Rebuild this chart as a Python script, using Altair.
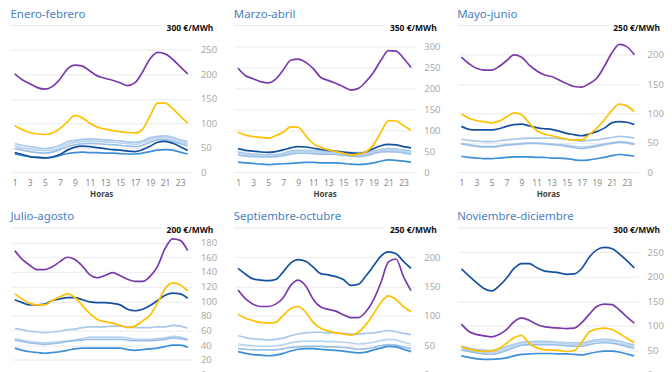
import altair as alt
import pandas as pd

hours = list(range(1, 25))
series = ["2017", "2018", "2019", "2020", "2021", "2023", "2022"]
colors = ["#a9c8ec", "#b9d4f1", "#9bbfe6", "#3d8fd8", "#15509f", "#ffc000", "#7a3aab"]

panels = ["Enero-febrero", "Marzo-abril", "Mayo-junio",
          "Julio-agosto", "Septiembre-octubre", "Noviembre-diciembre"]
ymax = [300, 350, 250, 200, 250, 300]
yticks = [
    [0, 50, 100, 150, 200, 250],
    [0, 50, 100, 150, 200, 250, 300],
    [0, 50, 100, 150, 200],
    [0, 20, 40, 60, 80, 100, 120, 140, 160, 180],
    [0, 50, 100, 150, 200],
    [0, 50, 100, 150, 200, 250],
]

# Enero-febrero
ef_2017 = [58, 55, 52, 50, 48, 50, 55, 62, 65, 67, 68, 67, 66, 65, 64, 62, 61, 64, 70, 73, 74, 71, 66, 62]
ef_2018 = [53, 50, 47, 45, 44, 45, 50, 57, 61, 63, 64, 63, 62, 61, 60, 58, 57, 60, 66, 70, 70, 67, 62, 58]
ef_2019 = [48, 45, 42, 40, 39, 41, 46, 52, 56, 58, 59, 58, 57, 56, 55, 53, 52, 55, 61, 66, 66, 63, 58, 54]
ef_2020 = [37, 34, 31, 30, 29, 30, 34, 38, 40, 41, 40, 40, 39, 39, 38, 37, 37, 39, 42, 45, 46, 45, 41, 37]
ef_2021 = [40, 36, 32, 30, 29, 31, 36, 45, 51, 53, 52, 50, 48, 46, 45, 43, 42, 46, 53, 61, 63, 59, 52, 44]
ef_2023 = [95, 87, 81, 78, 77, 80, 89, 103, 116, 111, 100, 92, 88, 85, 83, 81, 80, 88, 115, 141, 141, 130, 115, 100]
ef_2022 = [201, 189, 181, 173, 170, 175, 190, 211, 219, 217, 207, 197, 192, 188, 183, 177, 183, 205, 232, 245, 242, 231, 216, 201]

# Marzo-abril
ma_2017 = [48, 45, 43, 42, 41, 42, 45, 50, 52, 52, 51, 50, 49, 48, 46, 43, 41, 44, 50, 54, 56, 55, 53, 51]
ma_2018 = [45, 42, 40, 39, 38, 39, 42, 47, 49, 49, 48, 47, 46, 45, 43, 40, 39, 41, 47, 51, 53, 52, 50, 47]
ma_2019 = [41, 38, 37, 36, 36, 37, 39, 43, 45, 45, 44, 43, 43, 42, 40, 38, 37, 39, 44, 48, 49, 48, 46, 43]
ma_2020 = [24, 22, 21, 19, 18, 19, 20, 21, 22, 23, 23, 22, 22, 22, 21, 19, 18, 19, 22, 26, 29, 28, 26, 24]
ma_2021 = [56, 52, 50, 48, 47, 49, 53, 58, 61, 60, 57, 54, 52, 50, 48, 46, 45, 48, 56, 63, 66, 65, 61, 58]
ma_2023 = [95, 88, 85, 83, 81, 87, 95, 108, 107, 87, 68, 59, 53, 49, 45, 41, 43, 48, 65, 95, 123, 122, 111, 100]
ma_2022 = [248, 230, 223, 216, 213, 222, 244, 267, 270, 262, 247, 226, 219, 212, 204, 196, 200, 216, 238, 267, 290, 289, 272, 250]

# Mayo-junio
mj_2017 = [56, 54, 53, 52, 52, 53, 55, 56, 57, 58, 58, 58, 58, 57, 56, 54, 53, 54, 55, 57, 59, 61, 60, 58]
mj_2018 = [49, 47, 45, 44, 44, 45, 47, 48, 49, 50, 50, 49, 48, 47, 46, 44, 43, 44, 46, 48, 50, 52, 51, 49]
mj_2019 = [48, 46, 44, 43, 43, 44, 46, 47, 48, 49, 49, 48, 47, 46, 44, 42, 40, 42, 44, 47, 49, 51, 50, 47]
mj_2020 = [27, 25, 24, 23, 23, 24, 25, 26, 26, 26, 25, 25, 24, 24, 23, 21, 20, 21, 23, 25, 28, 30, 29, 27]
mj_2021 = [78, 73, 72, 72, 72, 74, 78, 81, 82, 79, 76, 74, 73, 70, 66, 64, 62, 65, 69, 75, 84, 86, 85, 81]
mj_2023 = [99, 92, 88, 86, 84, 87, 94, 101, 98, 84, 71, 65, 62, 59, 56, 55, 55, 64, 75, 89, 105, 116, 113, 103]
mj_2022 = [196, 185, 177, 174, 174, 180, 190, 200, 196, 183, 173, 166, 163, 157, 151, 146, 145, 151, 160, 180, 203, 218, 214, 200]

# Julio-agosto
ja_2017 = [63, 61, 59, 58, 57, 58, 59, 61, 62, 64, 65, 65, 65, 66, 66, 65, 64, 64, 64, 65, 65, 67, 66, 63]
ja_2018 = [49, 47, 45, 44, 43, 44, 45, 46, 47, 49, 51, 51, 51, 51, 51, 50, 48, 48, 48, 49, 50, 52, 51, 48]
ja_2019 = [47, 45, 43, 42, 41, 42, 43, 45, 46, 47, 48, 48, 48, 48, 48, 47, 46, 46, 46, 47, 48, 50, 49, 47]
ja_2020 = [36, 33, 31, 30, 29, 30, 31, 33, 35, 36, 36, 36, 36, 36, 36, 34, 33, 34, 35, 36, 38, 40, 40, 37]
ja_2021 = [102, 98, 95, 95, 96, 101, 103, 105, 105, 102, 99, 98, 98, 97, 95, 89, 87, 89, 94, 101, 108, 111, 110, 104]
ja_2023 = [110, 103, 97, 95, 95, 101, 106, 110, 105, 94, 83, 75, 72, 70, 67, 64, 66, 73, 81, 98, 117, 125, 122, 114]
ja_2022 = [169, 157, 149, 143, 143, 147, 154, 160, 157, 148, 136, 132, 135, 139, 135, 130, 127, 127, 134, 148, 172, 185, 183, 169]

# Septiembre-octubre
so_2017 = [66, 63, 61, 60, 59, 60, 62, 66, 69, 71, 72, 72, 71, 71, 70, 69, 69, 70, 71, 73, 75, 73, 70, 68]
so_2018 = [52, 50, 49, 48, 48, 49, 51, 54, 56, 57, 57, 57, 56, 56, 55, 54, 52, 53, 55, 58, 60, 59, 55, 52]
so_2019 = [44, 43, 42, 42, 42, 42, 44, 46, 47, 48, 48, 48, 47, 47, 46, 45, 43, 44, 46, 49, 51, 50, 47, 44]
so_2020 = [39, 36, 34, 33, 32, 33, 36, 40, 43, 44, 44, 43, 42, 41, 40, 38, 37, 38, 42, 45, 48, 47, 43, 39]
so_2021 = [181, 171, 163, 161, 160, 162, 175, 190, 196, 193, 183, 172, 170, 167, 162, 152, 154, 168, 185, 202, 209, 206, 193, 181]
so_2023 = [103, 96, 92, 89, 88, 89, 101, 112, 116, 106, 89, 79, 74, 71, 69, 67, 72, 85, 103, 123, 134, 128, 116, 107]
so_2022 = [144, 129, 120, 116, 116, 120, 131, 152, 161, 151, 128, 115, 111, 108, 102, 97, 97, 107, 127, 157, 192, 197, 167, 143]

# Noviembre-diciembre
nd_2017 = [58, 54, 51, 50, 49, 52, 57, 62, 66, 67, 68, 68, 67, 66, 65, 65, 65, 68, 71, 72, 71, 68, 64, 60]
nd_2018 = [55, 50, 47, 46, 45, 48, 53, 59, 64, 65, 65, 65, 65, 64, 63, 62, 62, 65, 68, 68, 67, 64, 60, 57]
nd_2019 = [51, 47, 44, 42, 41, 44, 49, 55, 60, 61, 61, 61, 61, 60, 59, 58, 58, 61, 64, 65, 64, 61, 57, 53]
nd_2020 = [38, 35, 32, 31, 31, 32, 34, 38, 41, 42, 43, 43, 43, 42, 42, 41, 40, 43, 46, 48, 48, 46, 42, 38]
nd_2021 = [216, 202, 188, 176, 171, 181, 197, 217, 227, 227, 219, 212, 210, 208, 205, 206, 217, 240, 255, 260, 258, 247, 233, 218]
nd_2023 = [57, 52, 49, 47, 48, 53, 64, 75, 80, 64, 55, 51, 50, 49, 47, 49, 66, 87, 93, 95, 92, 84, 74, 65]
nd_2022 = [103, 88, 82, 79, 77, 82, 92, 108, 116, 111, 103, 98, 96, 95, 94, 95, 106, 123, 139, 144, 143, 132, 118, 105]

panel_data = [
    [ef_2017, ef_2018, ef_2019, ef_2020, ef_2021, ef_2023, ef_2022],
    [ma_2017, ma_2018, ma_2019, ma_2020, ma_2021, ma_2023, ma_2022],
    [mj_2017, mj_2018, mj_2019, mj_2020, mj_2021, mj_2023, mj_2022],
    [ja_2017, ja_2018, ja_2019, ja_2020, ja_2021, ja_2023, ja_2022],
    [so_2017, so_2018, so_2019, so_2020, so_2021, so_2023, so_2022],
    [nd_2017, nd_2018, nd_2019, nd_2020, nd_2021, nd_2023, nd_2022],
]

FONT = "Noto Sans"
W, H = 181, 147

charts = []
for p, name in enumerate(panels):
    rows = []
    for s, vals in zip(series, panel_data[p]):
        for h, v in zip(hours, vals):
            rows.append({"hora": h, "valor": v, "serie": s})
    df = pd.DataFrame(rows)
    yenc = alt.Y("valor:Q",
                 scale=alt.Scale(domain=[0, ymax[p]], nice=False),
                 axis=alt.Axis(orient="right", values=yticks[p], title=None,
                               domain=False, ticks=False, labelPadding=9,
                               labelColor="#aaaaaa", labelFontSize=9.5,
                               gridColor="#ebebeb"))
    lines = alt.Chart(df).mark_line(strokeWidth=1.7, interpolate="monotone").encode(
        x=alt.X("hora:Q",
                scale=alt.Scale(domain=[0.5, 24.5], nice=False, zero=False),
                axis=alt.Axis(values=list(range(1, 24, 2)), title="Horas", grid=False,
                              domain=False, ticks=False, labelPadding=6,
                              labelColor="#8a8a8a", labelFontSize=8.5,
                              titleColor="#444444", titleFontSize=8,
                              titleFontWeight="bold", titlePadding=4)),
        y=yenc,
        color=alt.Color("serie:N", scale=alt.Scale(domain=series, range=colors), legend=None),
        order=alt.Order("hora:Q"),
    )
    top = alt.Chart(pd.DataFrame({"valor": [ymax[p]], "lab": [f"{ymax[p]} €/MWh"]}))
    rule = top.mark_rule(color="#e6e6e6", strokeWidth=1).encode(
        y=yenc, x=alt.value(0), x2=alt.value(W - 30))
    text = top.mark_text(align="right", baseline="middle", fontWeight="bold",
                         fontSize=8.5, font=FONT, color="#111111", dy=2).encode(
        y=yenc, x=alt.value(W + 22), text="lab:N")
    layer = alt.layer(lines, rule, text).properties(
        width=W, height=H,
        title=alt.TitleParams(name, anchor="start", color="#4a7fc0", fontSize=11.5,
                              fontWeight="normal", font=FONT, offset=3))
    charts.append(layer)

chart = alt.concat(*charts, columns=3, spacing={"row": 56, "column": 43}, bounds="flush").configure(
    font=FONT, padding={"left": 2, "top": 0, "right": 0, "bottom": 0}
).configure_view(stroke=None).configure_axis(labelFont=FONT, titleFont=FONT)

chart.save("out.html", embed_options={"renderer": "svg", "actions": False})
